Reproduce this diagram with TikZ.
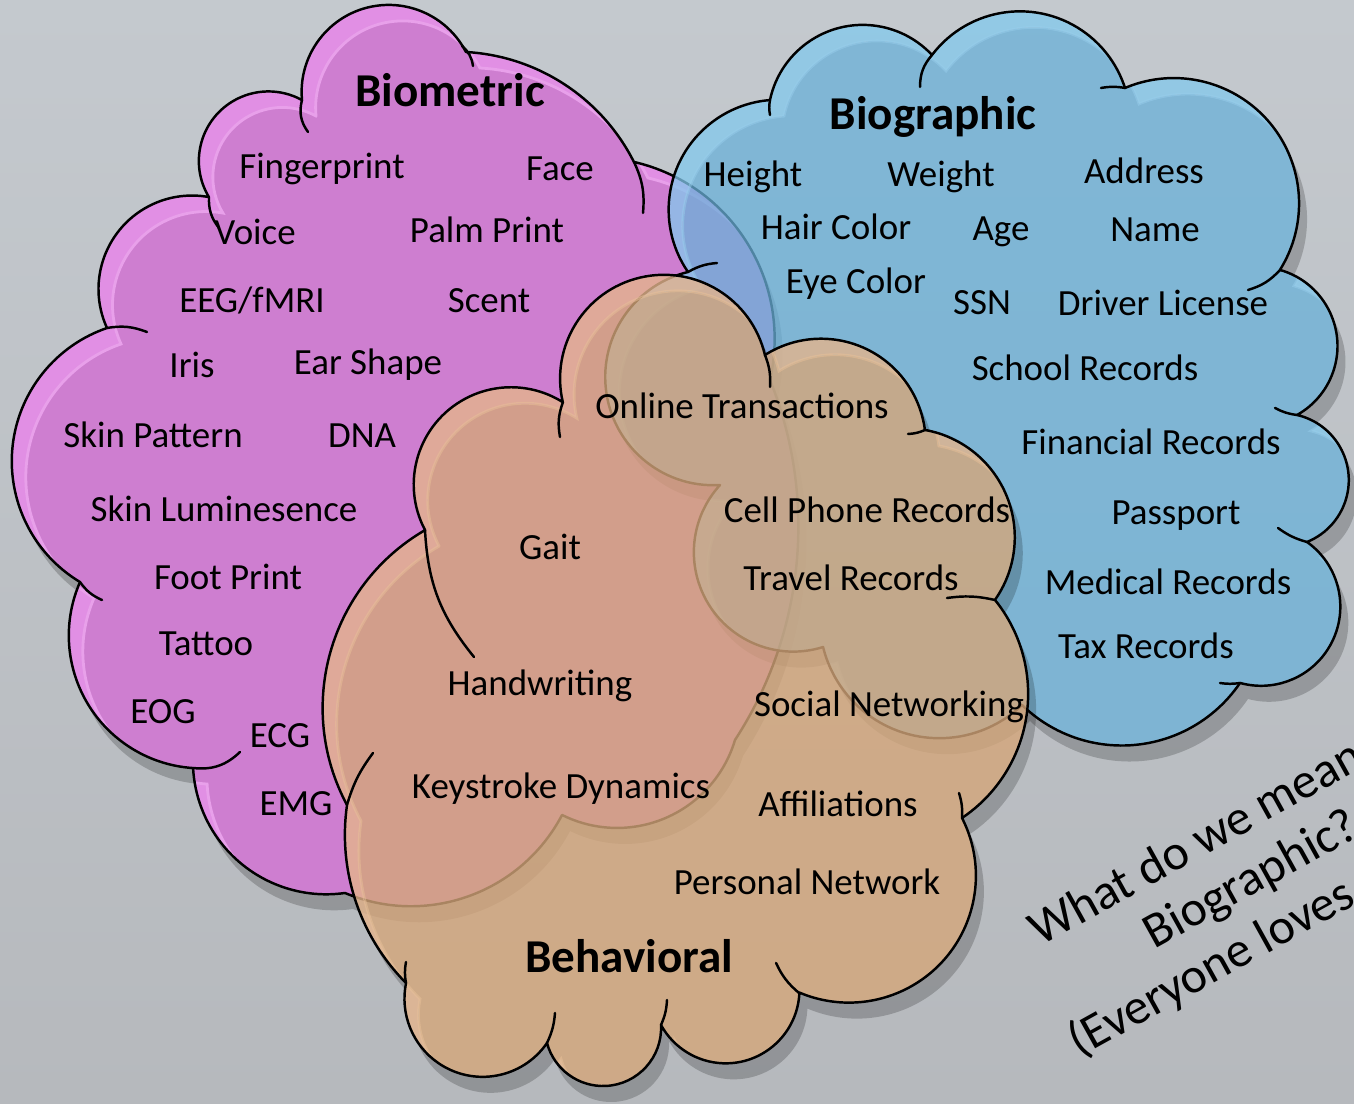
\documentclass[tikz,border=0pt]{standalone}
\usepackage{fontspec}
\setmainfont{Carlito}
\usetikzlibrary{calc}

\definecolor{bgtop}{RGB}{196,201,206}
\definecolor{bgbot}{RGB}{182,185,189}
\definecolor{magbase}{RGB}{206,126,208}
\definecolor{maglight}{RGB}{225,143,228}
\definecolor{magline}{RGB}{232,160,234}
\definecolor{bluebase}{RGB}{106,177,217}
\definecolor{bluelight}{RGB}{130,201,237}
\definecolor{blueline}{RGB}{150,205,235}
\definecolor{tanbase}{RGB}{212,166,122}
\definecolor{tanlight}{RGB}{228,180,140}
\definecolor{tanline}{RGB}{232,192,152}

\tikzset{
  % one round puff of a cloud: a circular arc of the given sweep from the
  % current point to the target, bulging to the left of the direction of travel
  lobe/.style={to path={
    let \p1=(\tikztostart), \p2=(\tikztotarget),
        \n1={atan2(\y2-\y1,\x2-\x1)},
        \n2={veclen(\x2-\x1,\y2-\y1)/(2*sin(#1/2))}
    in arc[start angle=\n1+90+#1/2, end angle=\n1+90-#1/2, radius=\n2]}},
  outline/.style={draw=black, line width=0.7pt, line join=round},
  hook/.style={draw=black, line width=0.7pt, line cap=round},
  shadowc/.style={fill=black, opacity=0.2},
  lab/.style={font=\fontsize{10.5}{12}\selectfont, anchor=base, inner sep=0pt},
  ttl/.style={font=\fontsize{13.4}{16}\selectfont\bfseries, anchor=base, inner sep=0pt},
  rot/.style={font=\fontsize{14.2}{17}\selectfont, anchor=base west, inner sep=0pt, rotate=29},
}

% cloud outlines, traversed clockwise; #1,#2 shift the whole outline
\newcommand\magcloud[2]{%
  ({302+#1},{100+#2}) to[lobe=158] ({466+#1},{52+#2})
  to[lobe=60] ({634+#1},{162+#2})
  to[lobe=90] ({770+#1},{380+#2})
  to[lobe=55] ({735+#1},{740+#2})
  to[lobe=100] ({562+#1},{815+#2})
  to[lobe=85] ({345+#1},{893+#2})
  to[lobe=95] ({193+#1},{768+#2})
  to[lobe=110] ({80+#1},{582+#2})
  to[lobe=130] ({107+#1},{328+#2})
  to[lobe=125] ({209+#1},{197+#2})
  to[lobe=150] ({302+#1},{100+#2}) -- cycle}

\newcommand\biocloud[2]{%
  ({688+#1},{272+#2}) to[lobe=120] ({770+#1},{100+#2})
  to[lobe=125] ({932+#1},{55+#2})
  to[lobe=125] ({1125+#1},{88+#2})
  to[lobe=145] ({1280+#1},{270+#2})
  to[lobe=135] ({1297+#1},{415+#2})
  to[lobe=145] ({1307+#1},{542+#2})
  to[lobe=160] ({1240+#1},{683+#2})
  to[lobe=100] ({1022+#1},{705+#2})
  to[lobe=120] ({823+#1},{647+#2})
  to[lobe=150] ({720+#1},{485+#2})
  to[lobe=170] ({688+#1},{272+#2}) -- cycle}

\newcommand\behcloud[2]{%
  ({425+#1},{530+#2}) to[lobe=150] ({563+#1},{402+#2})
  to[lobe=180] ({765+#1},{355+#2})
  to[lobe=115] ({925+#1},{430+#2})
  to[lobe=115] ({995+#1},{600+#2})
  to[lobe=95] ({962+#1},{818+#2})
  to[lobe=140] ({799+#1},{993+#2})
  to[lobe=149] ({661+#1},{1025+#2})
  to[lobe=168] ({547+#1},{1043+#2})
  to[lobe=157] ({406+#1},{983+#2})
  to[lobe=53] ({347+#1},{805+#2})
  to[lobe=88] ({425+#1},{530+#2}) -- cycle}

\begin{document}
\begin{tikzpicture}[x=0.01cm, y=-0.01cm]
\useasboundingbox (0,0) rectangle (1354,1104);
\shade[top color=bgtop, bottom color=bgbot] (0,0) rectangle (1354,1104);

% ---------- Biometric cloud ----------
\fill[shadowc] \magcloud{8}{16};
\begin{scope}
  \clip \magcloud{0}{0};
  \fill[maglight] \magcloud{0}{0};
  \fill[magbase] \magcloud{14}{16};
  \draw[magline, line width=0.8pt] \magcloud{14}{16};
\end{scope}
\draw[outline] \magcloud{0}{0};
\draw[hook] (308,132) to[bend left=25] (302,100);
\draw[hook] (462,46) to[bend left=20] (473,66);
\draw[hook] (634,162) to[bend left=15] (643,213);
\draw[hook] (219,228) to[bend left=20] (209,197);
\draw[hook] (107,328) to[bend left=15] (147,332);
\draw[hook] (102,600) to[bend left=15] (80,582);
\draw[hook] (240,752) to[bend left=25] (193,768);

% ---------- Biographic cloud ----------
\begin{scope}
  \clip (-60,-60) -- (-60,1200) -- (1450,1200) -- (1450,-60) -- cycle \biocloud{0}{0};
  \fill[shadowc] \biocloud{8}{16};
\end{scope}
\begin{scope}
  \clip \biocloud{0}{0};
  \fill[bluelight, opacity=0.75, even odd rule] \biocloud{0}{0} \biocloud{14}{16};
  \fill[bluebase, opacity=0.75] \biocloud{14}{16};
  \draw[blueline, opacity=0.5, line width=0.8pt] \biocloud{14}{16};
\end{scope}
\draw[outline] \biocloud{0}{0};
\draw[hook] (688,272) to[bend left=12] (717,263);
\draw[hook] (770,115) to[bend left=10] (770,100);
\draw[hook] (920,87) to[bend left=20] (932,55);
\draw[hook] (1101,88) to[bend left=10] (1125,88);
\draw[hook] (1280,270) to[bend left=15] (1248,290);
\draw[hook] (1297,415) to[bend left=10] (1275,408);
\draw[hook] (1307,542) to[bend left=10] (1278,528);
\draw[hook] (1240,683) to[bend left=8] (1220,683);

% ---------- Behavioral cloud ----------
\begin{scope}
  \clip (-60,-60) -- (-60,1200) -- (1450,1200) -- (1450,-60) -- cycle \behcloud{0}{0};
  \fill[shadowc] \behcloud{8}{16};
\end{scope}
\begin{scope}
  \clip \behcloud{0}{0};
  \fill[tanlight, opacity=0.8, even odd rule] \behcloud{0}{0} \behcloud{14}{16};
  \fill[tanbase, opacity=0.8] \behcloud{14}{16};
  \draw[tanline, opacity=0.5, line width=0.8pt] \behcloud{14}{16};
\end{scope}
\draw[outline] \behcloud{0}{0};
\draw[hook] (474,657) to[bend left=18] (425,530);
\draw[hook] (560,437) to[bend left=15] (563,402);
\draw[hook] (765,355) to[bend left=12] (770,387);
\draw[hook] (925,430) to[bend left=10] (908,434);
\draw[hook] (947,598) to[bend left=10] (995,600);
\draw[hook] (959,793) to[bend left=10] (962,818);
\draw[hook] (799,993) to[bend left=12] (776,963);
\draw[hook] (667,1000) to[bend left=10] (661,1025);
\draw[hook] (555,1013) to[bend left=10] (547,1043);
\draw[hook] (406,983) to[bend left=10] (406,962);
\draw[hook] (347,805) to[bend left=10] (373,753);

% ---------- labels ----------
\node[ttl] (tbiom) at (450,107) {Biometric};
\node[lab] (fingerprint) at (322,179) {Fingerprint};
\node[lab] (face) at (560,181) {Face};
\node[lab] (voice) at (255,245) {Voice};
\node[lab] (palm) at (487,243) {Palm Print};
\node[lab] (eeg) at (252,313) {EEG/fMRI};
\node[lab] (scent) at (489,313) {Scent};
\node[lab] (iris) at (192,378) {Iris};
\node[lab] (ear) at (368,375) {Ear Shape};
\node[lab] (skinpat) at (153,448) {Skin Pattern};
\node[lab] (dna) at (362,448) {DNA};
\node[lab] (skinlum) at (224,522) {Skin Luminesence};
\node[lab] (foot) at (228,590) {Foot Print};
\node[lab] (tattoo) at (206,656) {Tattoo};
\node[lab] (eog) at (163,724) {EOG};
\node[lab] (ecg) at (280,748) {ECG};
\node[lab] (emg) at (296,816) {EMG};

\node[ttl] (tbiog) at (933,130) {Biographic};
\node[lab] (height) at (753,187) {Height};
\node[lab] (weight) at (941,187) {Weight};
\node[lab] (address) at (1144,184) {Address};
\node[lab] (hair) at (836,240) {Hair Color};
\node[lab] (age) at (1001,241) {Age};
\node[lab] (name) at (1155,242) {Name};
\node[lab] (eye) at (856,294) {Eye Color};
\node[lab] (ssn) at (982,315) {SSN};
\node[lab] (driver) at (1163,316) {Driver License};
\node[lab] (school) at (1085,381) {School Records};
\node[lab] (financial) at (1151,455) {Financial Records};
\node[lab] (passport) at (1176,525) {Passport};
\node[lab] (medical) at (1168,595) {Medical Records};
\node[lab] (tax) at (1146,659) {Tax Records};

\node[lab] (online) at (742,419) {Online Transactions};
\node[lab] (gait) at (550,560) {Gait};
\node[lab] (cell) at (867,523) {Cell Phone Records};
\node[lab] (travel) at (851,591) {Travel Records};
\node[lab] (handw) at (540,696) {Handwriting};
\node[lab] (social) at (889,717) {Social Networking};
\node[lab] (keys) at (561,799) {Keystroke Dynamics};
\node[lab] (affil) at (838,817) {Affiliations};
\node[lab] (personal) at (807,895) {Personal Network};
\node[ttl] (tbeh) at (629,973) {Behavioral};

\node[rot] (q1) at (1040,947) {What do we mean};
\node[rot] (q2) at (1154,950) {Biographic?};
\node[rot] (q3) at (1079,1058) {(Everyone loves};
\end{tikzpicture}
\end{document}
